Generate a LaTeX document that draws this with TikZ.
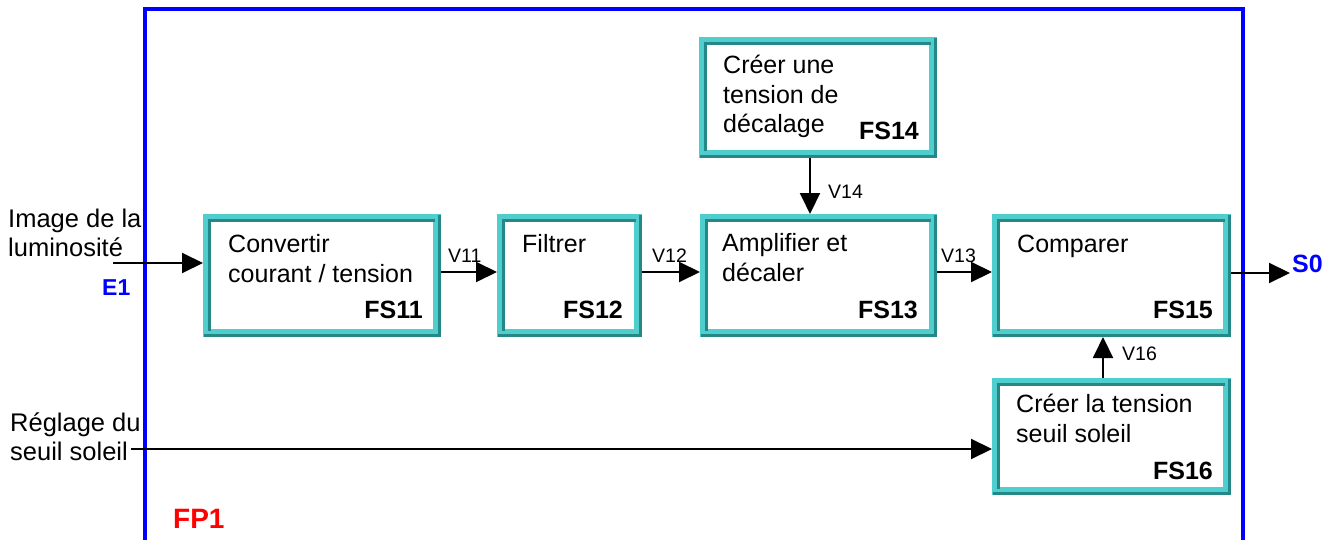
\documentclass[tikz,border=0pt]{standalone}
\usepackage{fontspec}
\setmainfont{Liberation Sans}
\usetikzlibrary{arrows.meta,calc}
\definecolor{tealL}{RGB}{80,206,206}
\definecolor{tealD}{RGB}{36,136,136}
\definecolor{frameblue}{RGB}{0,0,255}
\definecolor{fpred}{RGB}{255,0,0}
\tikzset{
  fsbox/.style={draw=tealL, fill=white, line width=8pt, rectangle, inner sep=0pt, outer sep=4pt},
  bevel/.style={draw=tealD, line width=2.6pt},
  flow/.style={line width=2pt, -{Triangle[length=21pt,width=20pt]}},
  btext/.style={anchor=base west, inner sep=0pt, align=left, font=\fontsize{25}{29.5}\selectfont},
  fslab/.style={anchor=base east, inner sep=0pt, font=\fontsize{25}{30}\selectfont\bfseries},
  vlab/.style={anchor=base west, inner sep=0pt, font=\fontsize{19.5}{22}\selectfont},
  sidetext/.style={anchor=base west, inner sep=0pt, align=left, font=\fontsize{25.5}{29}\selectfont},
}
\newcommand\fsbx[5]{%
  \node[fsbox, minimum width={#4-#2-8}, minimum height={#5-#3-8}] (#1) at ({(#2+#4)/2},{(#3+#5)/2}) {};
  \draw[bevel] ($(#1.south west)+(6.5,-6.5)$) -- ($(#1.north west)+(6.5,6.5)$) -- ($(#1.north east)+(-6.5,6.5)$);
  \draw[bevel] ($(#1.north east)+(-1.3,1.3)$) -- ($(#1.south east)+(-1.3,-1.3)$) -- ($(#1.south west)+(1.3,-1.3)$);
}
\begin{document}
\begin{tikzpicture}[x=1pt,y=-1pt]
\useasboundingbox[fill=white] (0,0) rectangle (1337,540);
% frame
\draw[frameblue, line width=4pt] (145,545) -- (145,9) -- (1243,9) -- (1243,545);
% boxes
\fsbx{fs11}{203}{214}{441}{337}
\fsbx{fs12}{497}{214}{642}{337}
\fsbx{fs13}{700}{214}{937}{337}
\fsbx{fs14}{699}{37}{937}{158}
\fsbx{fs15}{992}{214}{1231}{337}
\fsbx{fs16}{992}{378}{1231}{495}
% box texts (anchor = baseline of the last line)
\node[btext] (t11) at (228,282) {Convertir\\courant / tension};
\node[btext] (t12) at (522,252) {Filtrer};
\node[btext] (t13) at (722,281) {Amplifier et\\décaler};
\node[btext] (t14) at (723,133) {Créer une\\tension de\\décalage};
\node[btext] (t15) at (1017,252) {Comparer};
\node[btext] (t16) at (1016,442) {Créer la tension\\seuil soleil};
\node[fslab] (l11) at ($(fs11.south east)+(-18,-19)$) {FS11};
\node[fslab] (l12) at ($(fs12.south east)+(-19,-19)$) {FS12};
\node[fslab] (l13) at ($(fs13.south east)+(-19,-19)$) {FS13};
\node[fslab] (l14) at ($(fs14.south east)+(-18,-18)$) {FS14};
\node[fslab] (l15) at ($(fs15.south east)+(-18,-19)$) {FS15};
\node[fslab] (l16) at ($(fs16.south east)+(-18,-16)$) {FS16};
% coordinates
\coordinate (row) at (0,272);
\coordinate (e1) at (113,263);
\coordinate (s0) at (1290,273);
\coordinate (v14) at (810,0);
\coordinate (v16) at (1103,0);
\coordinate (rg) at (131,449);
% connectors
\draw[flow] (e1) -- (e1 -| fs11.west);
\draw[flow] (fs11.east |- row) -- (fs12.west |- row);
\draw[flow] (fs12.east |- row) -- (fs13.west |- row);
\draw[flow] (fs13.east |- row) -- (fs15.west |- row);
\draw[flow] (fs15.east |- s0) -- (s0);
\draw[flow] (fs14.south -| v14) -- (fs13.north -| v14);
\draw[flow] (fs16.north -| v16) -- (fs15.south -| v16);
\draw[flow] (rg) -- (rg -| fs16.west);
% connector labels
\node[vlab] (lv11) at (448,262) {V11};
\node[vlab] (lv12) at (652,262) {V12};
\node[vlab] (lv13) at (941,262) {V13};
\node[vlab] (lv14) at (828,198) {V14};
\node[vlab] (lv16) at (1122,360) {V16};
% side texts (anchor = baseline of the last line)
\node[sidetext] (img) at (8,256) {Image de la\\luminosité};
\node[sidetext] (reg) at (10,460) {Réglage du\\seuil soleil};
\node[anchor=base west, inner sep=0pt, text=frameblue, font=\fontsize{23}{26}\selectfont\bfseries] (E1) at (102,295) {E1};
\node[anchor=base west, inner sep=0pt, text=frameblue, font=\fontsize{25}{28}\selectfont\bfseries] (S0) at (1292,272) {S0};
\node[anchor=base west, inner sep=0pt, text=fpred, font=\fontsize{28}{32}\selectfont\bfseries] (FP1) at (173,528) {FP1};
\end{tikzpicture}
\end{document}
